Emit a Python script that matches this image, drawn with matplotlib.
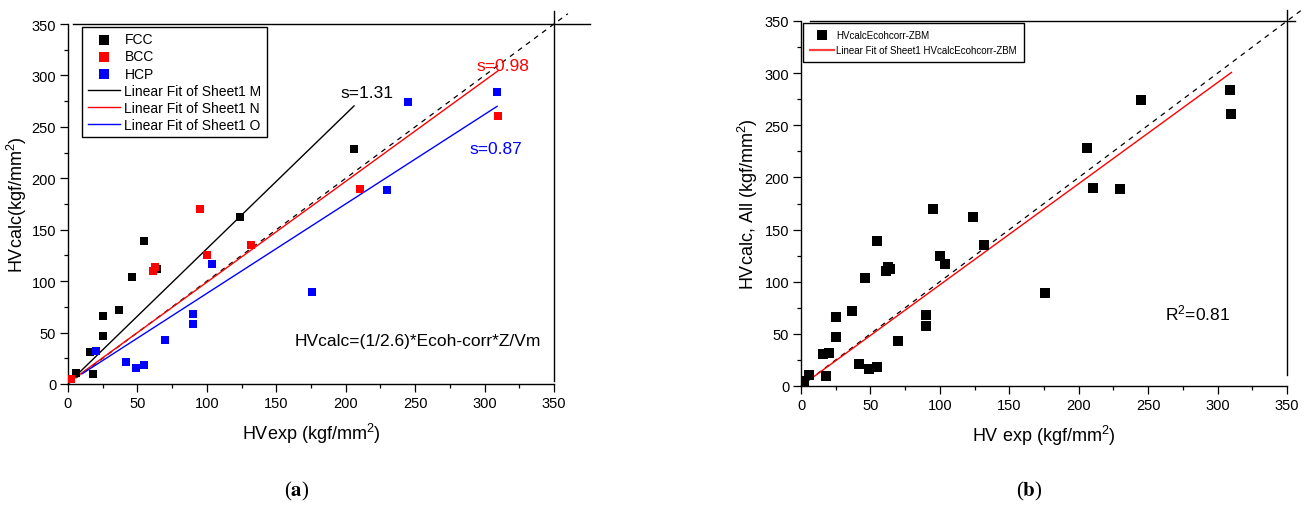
import numpy as np
import matplotlib
matplotlib.use("Agg")
import matplotlib.pyplot as plt
from matplotlib.ticker import MultipleLocator

plt.rcParams['font.family'] = ['Liberation Sans', 'DejaVu Sans']
plt.rcParams['mathtext.default'] = 'regular'

# hardness data, grouped by lattice type
fcc_x = [6, 16, 18, 25, 25, 37, 46, 55, 64, 124, 206]
fcc_y = [11, 31, 10, 47, 66, 72, 104, 139, 112, 162, 228]
bcc_x = [2, 61, 63, 95, 100, 132, 210, 310]
bcc_y = [5, 110, 114, 170, 125, 135, 190, 261]
hcp_x = [20, 42, 49, 55, 70, 90, 90, 104, 176, 230, 245, 309]
hcp_y = [32, 21, 16, 18, 43, 68, 58, 117, 89, 189, 274, 284]

# linear fits per group: slope, intercept, x range
fit_slope = [1.31, 0.98, 0.87]
fit_icpt = [0.5, 1.0, 1.1]
fit_xmin = [2, 2, 10]
fit_xmax = [206, 310, 309]
fit_names = ['Linear Fit of Sheet1 M', 'Linear Fit of Sheet1 N', 'Linear Fit of Sheet1 O']
group_names = ['FCC', 'BCC', 'HCP']
colors = ['black', 'red', 'blue']

# fit for all data together
all_slope = 0.97
all_icpt = 0.0
all_xmax = 310
r2 = 0.81

W, H = 1307, 506
fig = plt.figure(figsize=(W / 100, H / 100), dpi=100)

ax1 = fig.add_axes([68 / W, 1 - 385 / H, 486 / W, 360 / H])
ax2 = fig.add_axes([801 / W, 1 - 387 / H, 486 / W, 365 / H])


def style_axes(ax, top_from, top_to, right_from, right_to):
    ax.set_xlim(0, 350)
    ax.set_ylim(0, 350)
    ax.xaxis.set_major_locator(MultipleLocator(50))
    ax.xaxis.set_minor_locator(MultipleLocator(25))
    ax.yaxis.set_major_locator(MultipleLocator(50))
    ax.yaxis.set_minor_locator(MultipleLocator(25))
    ax.tick_params(which='major', direction='out', length=5.5, width=0.9, labelsize=10.5, pad=3)
    ax.tick_params(which='minor', direction='out', length=3, width=0.9)
    for s in ['top', 'right']:
        ax.spines[s].set_visible(False)
    for s in ['left', 'bottom']:
        ax.spines[s].set_linewidth(1.0)
    # frame lines like the origin plot
    ax.plot([top_from, top_to], [350, 350], color='black', lw=1.0, clip_on=False)
    ax.plot([350, 350], [right_from, right_to], color='black', lw=1.0, clip_on=False)
    # y = x reference
    ax.plot([0, 360], [0, 360], color='black', lw=0.9, ls=(0, (4, 4)), clip_on=False, zorder=1)


style_axes(ax1, 3.8, 376, 3.2, 362.6)
style_axes(ax2, 6.7, 356, 10.5, 360.5)

# ---- panel (a)
handles = []
for gx, gy, c, name in zip([fcc_x, bcc_x, hcp_x], [fcc_y, bcc_y, hcp_y], colors, group_names):
    h = ax1.scatter(gx, gy, marker='s', s=36, color=c, label=name, zorder=3, linewidths=0)
    handles.append(h)
for k in range(3):
    xx = np.array([fit_xmin[k], fit_xmax[k]])
    ln, = ax1.plot(xx, fit_slope[k] * xx + fit_icpt[k], color=colors[k], lw=1.0, label=fit_names[k], zorder=2)
    handles.append(ln)

ax1.text(196, 283, 's=%.2f' % fit_slope[0], color='black', fontsize=12.5, va='center')
ax1.text(294, 310, 's=%.2f' % fit_slope[1], color='red', fontsize=12.5, va='center')
ax1.text(289, 229, 's=%.2f' % fit_slope[2], color='blue', fontsize=12.5, va='center')
ax1.text(163, 42, 'HVcalc=(1/2.6)*Ecoh-corr*Z/Vm', fontsize=12.5, va='center')

leg1 = ax1.legend(handles=handles, loc='upper left', bbox_to_anchor=(0.029, 0.992),
                  borderaxespad=0, fontsize=10, labelspacing=0.22, handlelength=2.3,
                  handletextpad=0.35, borderpad=0.4, fancybox=False, framealpha=1,
                  edgecolor='black', scatterpoints=1, markerscale=1.1)
leg1.get_frame().set_linewidth(1.0)

ax1.set_xlabel('HVexp (kgf/mm$^2$)', fontsize=13, labelpad=8)
ax1.set_ylabel('HVcalc(kgf/mm$^2$)', fontsize=13, labelpad=2)

# ---- panel (b)
all_x = fcc_x + bcc_x + hcp_x
all_y = fcc_y + bcc_y + hcp_y
h_all = ax2.scatter(all_x, all_y, marker='s', s=42, color='black', zorder=3, linewidths=0,
                    label='HVcalcEcohcorr-ZBM')
xx = np.array([0, all_xmax])
l_all, = ax2.plot(xx, all_slope * xx + all_icpt, color='red', lw=1.0, zorder=2,
                  label='Linear Fit of Sheet1 HVcalcEcohcorr-ZBM')
ax2.text(262, 71, 'R$^2$=%.2f' % r2, fontsize=12.5, va='center')

leg2 = ax2.legend(handles=[h_all, l_all], loc='upper left', bbox_to_anchor=(0.004, 0.994),
                  borderaxespad=0, fontsize=7, labelspacing=0.55, handlelength=2.5,
                  handletextpad=0.25, borderpad=0.7, fancybox=False, framealpha=1,
                  edgecolor='black', scatterpoints=1)
leg2.get_frame().set_linewidth(1.0)
for hl in leg2.get_lines():
    hl.set_linewidth(1.6)
    hl.set_color('#ff4040')

ax2.set_xlabel('HV exp (kgf/mm$^2$)', fontsize=13, labelpad=8)
ax2.set_ylabel('HVcalc, All (kgf/mm$^2$)', fontsize=13, labelpad=3)

# panel captions
fig.text(297 / W, 1 - 491 / H, r'($\mathbf{a}$)', fontsize=15, family='Liberation Serif',
         math_fontfamily='stix', ha='center', va='center')
fig.text(1029 / W, 1 - 491 / H, r'($\mathbf{b}$)', fontsize=15, family='Liberation Serif',
         math_fontfamily='stix', ha='center', va='center')

fig.savefig('out.png', dpi=100)
